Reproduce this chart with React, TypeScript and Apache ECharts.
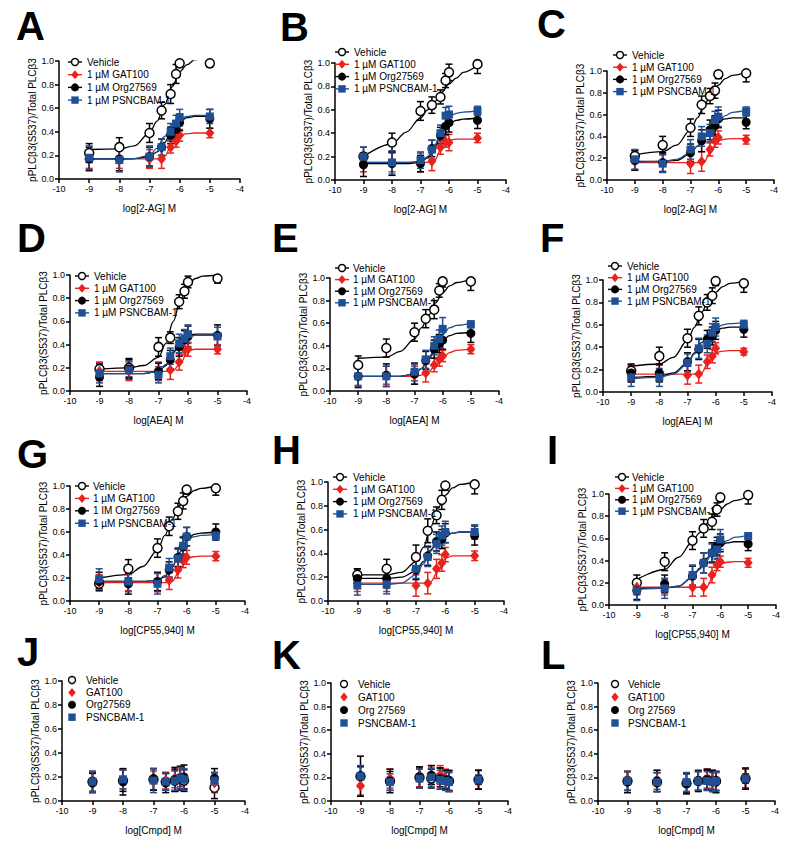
import React, { useEffect, useRef } from "react";
import * as echarts from "echarts";

// ---------- data ----------
const X_CONC = [-9, -8, -7, -6.6, -6.3, -6.12, -6, -5];
const CURVE_X = [-9, -8, -7.5, -7, -6.75, -6.5, -6.25, -6, -5.75, -5.5, -5];
const X_TICK_MIN = -10;
const X_TICK_MAX = -4;
const Y_TICK_MAX = 1;

const Y_TITLE = "pPLCβ3(S537)/Total PLCβ3";
const X_TITLES = [
  "log[2-AG] M", "log[2-AG] M", "log[2-AG] M",
  "log[AEA] M", "log[AEA] M", "log[AEA] M",
  "log[CP55,940] M", "log[CP55,940] M", "log[CP55,940] M",
  "log[Cmpd] M", "log[Cmpd] M", "log[Cmpd] M",
];
const PANEL_LETTERS = ["A", "B", "C", "D", "E", "F", "G", "H", "I", "J", "K", "L"];
const LEGEND_STD = ["Vehicle", "1 µM GAT100", "1 µM Org27569", "1 µM PSNCBAM-1"];
const LEGEND_G = ["Vehicle", "1 µM GAT100", "1 IM Org27569", "1 µM PSNCBAM-1"];
const LEGEND_J = ["Vehicle", "GAT100", "Org27569", "PSNCBAM-1"];
const LEGEND_KL = ["Vehicle", "GAT100", "Org 27569", "PSNCBAM-1"];

// rows: Vehicle, GAT100, Org27569, PSNCBAM-1 ; columns follow X_CONC / CURVE_X
const A_MEANS = [
  [0.22, 0.27, 0.39, 0.58, 0.72, 0.89, 0.98, 0.98],
  [0.17, 0.17, 0.17, 0.17, 0.27, 0.32, 0.37, 0.39],
  [0.17, 0.17, 0.19, 0.27, 0.37, 0.42, 0.48, 0.51],
  [0.18, 0.16, 0.19, 0.27, 0.40, 0.47, 0.52, 0.53],
];
const A_ERRS = [
  [0.08, 0.08, 0.08, 0.07, 0.08, 0.08, 0.03, 0.03],
  [0.08, 0.08, 0.08, 0.08, 0.05, 0.05, 0.05, 0.04],
  [0.10, 0.10, 0.08, 0.07, 0.07, 0.07, 0.07, 0.08],
  [0.10, 0.10, 0.09, 0.07, 0.07, 0.07, 0.07, 0.06],
];
const A_FITS = [
  [0.25, 0.255, 0.28, 0.39, 0.49, 0.63, 0.78, 0.91, 0.97, 1.01, 1.05],
  [0.17, 0.17, 0.17, 0.17, 0.17, 0.19, 0.30, 0.37, 0.385, 0.39, 0.39],
  [0.17, 0.17, 0.172, 0.19, 0.23, 0.31, 0.42, 0.49, 0.52, 0.53, 0.53],
  [0.17, 0.17, 0.173, 0.20, 0.26, 0.36, 0.46, 0.51, 0.53, 0.54, 0.54],
];

const B_MEANS = [
  [0.20, 0.32, 0.59, 0.64, 0.71, 0.85, 0.92, 0.99],
  [0.15, 0.15, 0.15, 0.16, 0.28, 0.33, 0.32, 0.36],
  [0.13, 0.14, 0.14, 0.27, 0.38, 0.46, 0.49, 0.51],
  [0.20, 0.15, 0.17, 0.26, 0.40, 0.55, 0.56, 0.59],
];
const B_ERRS = [
  [0.08, 0.08, 0.08, 0.07, 0.06, 0.06, 0.07, 0.08],
  [0.08, 0.08, 0.08, 0.08, 0.06, 0.05, 0.07, 0.04],
  [0.10, 0.10, 0.07, 0.07, 0.07, 0.07, 0.08, 0.07],
  [0.08, 0.10, 0.07, 0.08, 0.07, 0.07, 0.07, 0.04],
];
const B_FITS = [
  [0.20, 0.31, 0.41, 0.53, 0.60, 0.67, 0.75, 0.82, 0.87, 0.92, 0.98],
  [0.15, 0.15, 0.15, 0.15, 0.15, 0.17, 0.28, 0.34, 0.35, 0.35, 0.35],
  [0.14, 0.14, 0.14, 0.15, 0.19, 0.28, 0.40, 0.48, 0.51, 0.52, 0.53],
  [0.15, 0.15, 0.15, 0.16, 0.20, 0.30, 0.44, 0.54, 0.57, 0.58, 0.59],
];

const C_MEANS = [
  [0.22, 0.32, 0.48, 0.69, 0.77, 0.82, 0.97, 0.98],
  [0.17, 0.16, 0.15, 0.17, 0.28, 0.36, 0.39, 0.37],
  [0.18, 0.16, 0.25, 0.36, 0.46, 0.50, 0.56, 0.53],
  [0.19, 0.15, 0.28, 0.40, 0.43, 0.55, 0.58, 0.63],
];
const C_ERRS = [
  [0.05, 0.08, 0.08, 0.08, 0.07, 0.07, 0.04, 0.08],
  [0.08, 0.08, 0.09, 0.09, 0.06, 0.06, 0.06, 0.04],
  [0.09, 0.09, 0.08, 0.10, 0.09, 0.09, 0.08, 0.06],
  [0.09, 0.08, 0.09, 0.09, 0.08, 0.08, 0.09, 0.04],
];
const C_FITS = [
  [0.23, 0.26, 0.32, 0.46, 0.57, 0.69, 0.79, 0.87, 0.93, 0.96, 0.99],
  [0.16, 0.16, 0.16, 0.16, 0.16, 0.17, 0.28, 0.36, 0.375, 0.38, 0.38],
  [0.17, 0.17, 0.18, 0.24, 0.31, 0.41, 0.49, 0.54, 0.56, 0.57, 0.57],
  [0.16, 0.17, 0.19, 0.25, 0.31, 0.39, 0.47, 0.54, 0.59, 0.62, 0.64],
];

const D_MEANS = [
  [0.19, 0.20, 0.38, 0.46, 0.77, 0.86, 0.94, 0.97],
  [0.17, 0.17, 0.17, 0.18, 0.25, 0.36, 0.36, 0.36],
  [0.12, 0.19, 0.17, 0.27, 0.38, 0.44, 0.47, 0.48],
  [0.15, 0.18, 0.14, 0.30, 0.41, 0.45, 0.49, 0.47],
];
const D_ERRS = [
  [0.05, 0.08, 0.08, 0.05, 0.06, 0.06, 0.05, 0.04],
  [0.08, 0.08, 0.08, 0.08, 0.07, 0.05, 0.06, 0.04],
  [0.08, 0.08, 0.07, 0.08, 0.08, 0.08, 0.09, 0.09],
  [0.08, 0.08, 0.07, 0.07, 0.08, 0.08, 0.08, 0.08],
];
const D_FITS = [
  [0.19, 0.20, 0.22, 0.29, 0.41, 0.60, 0.79, 0.91, 0.97, 0.99, 1.0],
  [0.17, 0.17, 0.17, 0.17, 0.17, 0.18, 0.24, 0.35, 0.36, 0.36, 0.36],
  [0.15, 0.15, 0.15, 0.17, 0.22, 0.33, 0.43, 0.48, 0.49, 0.49, 0.49],
  [0.15, 0.15, 0.15, 0.17, 0.23, 0.34, 0.43, 0.47, 0.48, 0.48, 0.48],
];

const E_MEANS = [
  [0.23, 0.38, 0.52, 0.64, 0.72, 0.89, 0.97, 0.97],
  [0.13, 0.14, 0.14, 0.16, 0.23, 0.28, 0.31, 0.37],
  [0.13, 0.14, 0.15, 0.27, 0.37, 0.42, 0.45, 0.51],
  [0.13, 0.13, 0.17, 0.28, 0.40, 0.46, 0.55, 0.59],
];
const E_ERRS = [
  [0.08, 0.08, 0.08, 0.08, 0.08, 0.06, 0.05, 0.08],
  [0.08, 0.08, 0.08, 0.08, 0.06, 0.06, 0.05, 0.04],
  [0.10, 0.10, 0.09, 0.08, 0.08, 0.08, 0.08, 0.08],
  [0.09, 0.09, 0.08, 0.08, 0.08, 0.08, 0.10, 0.03],
];
const E_FITS = [
  [0.29, 0.30, 0.35, 0.46, 0.56, 0.67, 0.78, 0.87, 0.93, 0.96, 0.99],
  [0.13, 0.13, 0.13, 0.13, 0.14, 0.17, 0.23, 0.30, 0.34, 0.36, 0.37],
  [0.13, 0.13, 0.13, 0.15, 0.20, 0.28, 0.38, 0.45, 0.49, 0.51, 0.52],
  [0.13, 0.13, 0.13, 0.15, 0.20, 0.29, 0.40, 0.50, 0.56, 0.58, 0.60],
];

const F_MEANS = [
  [0.19, 0.32, 0.48, 0.68, 0.80, 0.86, 0.99, 0.97],
  [0.16, 0.17, 0.15, 0.16, 0.27, 0.32, 0.39, 0.36],
  [0.17, 0.17, 0.27, 0.38, 0.47, 0.50, 0.55, 0.56],
  [0.13, 0.13, 0.26, 0.39, 0.43, 0.53, 0.58, 0.60],
];
const F_ERRS = [
  [0.05, 0.08, 0.08, 0.08, 0.07, 0.07, 0.04, 0.08],
  [0.07, 0.07, 0.08, 0.08, 0.06, 0.06, 0.05, 0.03],
  [0.08, 0.08, 0.08, 0.09, 0.08, 0.08, 0.08, 0.07],
  [0.08, 0.08, 0.08, 0.09, 0.08, 0.08, 0.08, 0.04],
];
const F_FITS = [
  [0.23, 0.25, 0.31, 0.46, 0.58, 0.71, 0.82, 0.89, 0.94, 0.97, 0.99],
  [0.16, 0.16, 0.16, 0.16, 0.16, 0.17, 0.27, 0.35, 0.365, 0.37, 0.37],
  [0.13, 0.14, 0.17, 0.26, 0.35, 0.44, 0.51, 0.55, 0.57, 0.58, 0.58],
  [0.12, 0.13, 0.16, 0.25, 0.34, 0.44, 0.52, 0.57, 0.60, 0.61, 0.62],
];

const G_MEANS = [
  [0.15, 0.28, 0.46, 0.65, 0.78, 0.87, 0.97, 0.98],
  [0.16, 0.16, 0.16, 0.18, 0.27, 0.35, 0.38, 0.39],
  [0.17, 0.15, 0.17, 0.27, 0.38, 0.47, 0.56, 0.60],
  [0.19, 0.17, 0.15, 0.29, 0.37, 0.48, 0.56, 0.57],
];
const G_ERRS = [
  [0.04, 0.08, 0.08, 0.08, 0.07, 0.07, 0.04, 0.06],
  [0.07, 0.07, 0.08, 0.08, 0.07, 0.06, 0.06, 0.04],
  [0.08, 0.09, 0.08, 0.07, 0.08, 0.08, 0.08, 0.07],
  [0.09, 0.09, 0.09, 0.08, 0.08, 0.08, 0.08, 0.04],
];
const G_FITS = [
  [0.20, 0.23, 0.30, 0.44, 0.57, 0.71, 0.83, 0.91, 0.96, 0.98, 1.0],
  [0.16, 0.16, 0.16, 0.16, 0.16, 0.17, 0.26, 0.37, 0.385, 0.39, 0.39],
  [0.17, 0.17, 0.17, 0.18, 0.21, 0.29, 0.42, 0.53, 0.58, 0.59, 0.60],
  [0.17, 0.17, 0.17, 0.18, 0.22, 0.30, 0.42, 0.52, 0.56, 0.57, 0.58],
];

const H_MEANS = [
  [0.22, 0.27, 0.37, 0.59, 0.72, 0.85, 0.97, 0.98],
  [0.15, 0.15, 0.13, 0.15, 0.27, 0.32, 0.39, 0.38],
  [0.19, 0.19, 0.26, 0.38, 0.50, 0.52, 0.57, 0.55],
  [0.13, 0.14, 0.27, 0.37, 0.48, 0.55, 0.58, 0.58],
];
const H_ERRS = [
  [0.05, 0.08, 0.10, 0.10, 0.07, 0.08, 0.04, 0.08],
  [0.07, 0.07, 0.09, 0.09, 0.08, 0.07, 0.06, 0.04],
  [0.08, 0.08, 0.08, 0.08, 0.08, 0.08, 0.08, 0.08],
  [0.08, 0.08, 0.08, 0.08, 0.08, 0.08, 0.09, 0.06],
];
const H_FITS = [
  [0.22, 0.22, 0.24, 0.33, 0.45, 0.62, 0.78, 0.89, 0.95, 0.98, 1.0],
  [0.15, 0.15, 0.15, 0.15, 0.15, 0.16, 0.25, 0.36, 0.38, 0.38, 0.38],
  [0.19, 0.19, 0.20, 0.25, 0.33, 0.43, 0.51, 0.55, 0.57, 0.58, 0.58],
  [0.14, 0.14, 0.15, 0.22, 0.31, 0.42, 0.51, 0.55, 0.57, 0.58, 0.58],
];

const I_MEANS = [
  [0.20, 0.39, 0.58, 0.69, 0.75, 0.86, 0.97, 0.99],
  [0.16, 0.16, 0.16, 0.16, 0.27, 0.36, 0.39, 0.38],
  [0.13, 0.19, 0.26, 0.38, 0.47, 0.53, 0.56, 0.55],
  [0.13, 0.15, 0.27, 0.38, 0.47, 0.50, 0.59, 0.62],
];
const I_ERRS = [
  [0.07, 0.08, 0.08, 0.08, 0.07, 0.06, 0.04, 0.08],
  [0.07, 0.07, 0.08, 0.08, 0.07, 0.05, 0.05, 0.04],
  [0.08, 0.08, 0.09, 0.09, 0.09, 0.08, 0.08, 0.06],
  [0.09, 0.09, 0.09, 0.09, 0.08, 0.08, 0.09, 0.03],
];
const I_FITS = [
  [0.23, 0.32, 0.43, 0.57, 0.65, 0.73, 0.80, 0.86, 0.91, 0.94, 0.98],
  [0.16, 0.16, 0.16, 0.16, 0.16, 0.16, 0.26, 0.37, 0.385, 0.39, 0.39],
  [0.15, 0.15, 0.17, 0.25, 0.33, 0.42, 0.49, 0.54, 0.56, 0.57, 0.57],
  [0.14, 0.15, 0.17, 0.25, 0.32, 0.40, 0.48, 0.54, 0.58, 0.61, 0.63],
];

const J_MEANS = [
  [0.16, 0.17, 0.18, 0.16, 0.17, 0.19, 0.17, 0.11],
  [0.16, 0.18, 0.17, 0.17, 0.19, 0.20, 0.18, 0.15],
  [0.15, 0.16, 0.18, 0.15, 0.18, 0.19, 0.20, 0.19],
  [0.16, 0.18, 0.17, 0.16, 0.17, 0.19, 0.18, 0.17],
];
const J_ERRS = [
  [0.08, 0.09, 0.09, 0.07, 0.09, 0.09, 0.09, 0.09],
  [0.08, 0.08, 0.08, 0.07, 0.08, 0.08, 0.08, 0.08],
  [0.08, 0.11, 0.09, 0.08, 0.10, 0.10, 0.10, 0.08],
  [0.09, 0.08, 0.10, 0.07, 0.08, 0.09, 0.09, 0.07],
];

const K_MEANS = [
  [0.21, 0.17, 0.20, 0.19, 0.20, 0.18, 0.17, 0.18],
  [0.13, 0.19, 0.20, 0.22, 0.22, 0.19, 0.17, 0.18],
  [0.21, 0.17, 0.20, 0.22, 0.19, 0.18, 0.17, 0.18],
  [0.21, 0.16, 0.19, 0.20, 0.18, 0.17, 0.16, 0.18],
];
const K_ERRS = [
  [0.08, 0.08, 0.08, 0.08, 0.08, 0.08, 0.08, 0.08],
  [0.08, 0.08, 0.08, 0.08, 0.08, 0.08, 0.08, 0.08],
  [0.17, 0.10, 0.09, 0.08, 0.09, 0.08, 0.09, 0.08],
  [0.09, 0.07, 0.08, 0.08, 0.08, 0.08, 0.08, 0.04],
];

const L_MEANS = [
  [0.17, 0.16, 0.15, 0.17, 0.18, 0.17, 0.17, 0.19],
  [0.17, 0.18, 0.16, 0.17, 0.19, 0.18, 0.16, 0.19],
  [0.16, 0.17, 0.15, 0.17, 0.18, 0.17, 0.16, 0.19],
  [0.17, 0.16, 0.16, 0.17, 0.17, 0.16, 0.17, 0.19],
];
const L_ERRS = [
  [0.08, 0.08, 0.08, 0.08, 0.08, 0.08, 0.08, 0.08],
  [0.08, 0.08, 0.08, 0.08, 0.08, 0.08, 0.08, 0.08],
  [0.09, 0.09, 0.09, 0.09, 0.09, 0.09, 0.09, 0.09],
  [0.08, 0.08, 0.08, 0.08, 0.08, 0.08, 0.08, 0.04],
];

// ---------- layout / style ----------
const FONT = "'Liberation Sans', Arial, Helvetica, sans-serif";
const RED = "#e8231f";
const BLUE = "#1f4f94";
const BLACK = "#000000";

// [left, top, right, bottom] in px
const GRID_BOX = [
  [59, 61, 240, 179], [335, 63, 506, 180], [607, 71, 774, 180],
  [70, 275, 247, 391], [330, 278, 499, 391], [603, 280, 772, 392],
  [70, 486, 245, 601], [328, 482, 504, 601], [609, 494, 776, 605],
  [62, 681, 245, 801], [331, 683, 508, 801], [598, 683, 775, 801],
];
// [iconLeft, firstRowY, rowGap, textLeft]
const LEGEND_BOX = [
  [68, 62, 12.7, 87], [335, 52, 12.3, 354], [613, 55, 12.2, 632],
  [75, 276, 12.3, 94], [335, 268, 11.6, 353], [608, 266, 11.7, 627],
  [75, 486, 12.4, 93], [333, 477, 12.3, 353], [615, 477, 11.4, 632],
  [68, 680, 12.4, 86], [340, 684, 13, 358], [611, 684, 13, 628],
];
// [x, yCenter]
const LETTER_POS = [
  [16, 26], [280, 27], [537, 24],
  [17, 238], [272, 238], [540, 238],
  [17, 454], [272, 450], [547, 450],
  [17, 652], [272, 655], [541, 655],
];

const PANELS = [
  { means: A_MEANS, errs: A_ERRS, fits: A_FITS, legend: LEGEND_STD },
  { means: B_MEANS, errs: B_ERRS, fits: B_FITS, legend: LEGEND_STD },
  { means: C_MEANS, errs: C_ERRS, fits: C_FITS, legend: LEGEND_STD },
  { means: D_MEANS, errs: D_ERRS, fits: D_FITS, legend: LEGEND_STD },
  { means: E_MEANS, errs: E_ERRS, fits: E_FITS, legend: LEGEND_STD },
  { means: F_MEANS, errs: F_ERRS, fits: F_FITS, legend: LEGEND_STD },
  { means: G_MEANS, errs: G_ERRS, fits: G_FITS, legend: LEGEND_G },
  { means: H_MEANS, errs: H_ERRS, fits: H_FITS, legend: LEGEND_STD },
  { means: I_MEANS, errs: I_ERRS, fits: I_FITS, legend: LEGEND_STD },
  { means: J_MEANS, errs: J_ERRS, fits: null, legend: LEGEND_J },
  { means: K_MEANS, errs: K_ERRS, fits: null, legend: LEGEND_KL },
  { means: L_MEANS, errs: L_ERRS, fits: null, legend: LEGEND_KL },
];

const TREAT_STYLE = [
  { symbol: "circle", size: 9, fill: "#ffffff", stroke: BLACK, line: BLACK },
  { symbol: "diamond", size: [9, 11], fill: RED, stroke: RED, line: RED },
  { symbol: "circle", size: 9, fill: BLACK, stroke: BLACK, line: BLACK },
  { symbol: "rect", size: 8, fill: BLUE, stroke: BLUE, line: BLUE },
];

function errRender(color: string) {
  return (params: any, api: any) => {
    const x = api.value(0);
    const lo = api.coord([x, api.value(1)]);
    const hi = api.coord([x, api.value(2)]);
    const w = 3.5;
    const st = { stroke: color, lineWidth: 1.5 };
    return {
      type: "group",
      children: [
        { type: "line", shape: { x1: lo[0], y1: lo[1], x2: hi[0], y2: hi[1] }, style: st },
        { type: "line", shape: { x1: lo[0] - w, y1: lo[1], x2: lo[0] + w, y2: lo[1] }, style: st },
        { type: "line", shape: { x1: hi[0] - w, y1: hi[1], x2: hi[0] + w, y2: hi[1] }, style: st },
      ],
    };
  };
}

function legendSymbol(k: number, cx: number, cy: number) {
  const s = TREAT_STYLE[k];
  if (k === 0) {
    return { type: "circle", shape: { cx, cy, r: 3.5 }, style: { fill: "#fff", stroke: BLACK, lineWidth: 1.4 }, z: 20 };
  }
  if (k === 1) {
    return {
      type: "polygon",
      shape: { points: [[cx, cy - 4.5], [cx + 3.7, cy], [cx, cy + 4.5], [cx - 3.7, cy]] },
      style: { fill: s.fill }, z: 20,
    };
  }
  if (k === 2) {
    return { type: "circle", shape: { cx, cy, r: 4 }, style: { fill: BLACK }, z: 20 };
  }
  return { type: "rect", shape: { x: cx - 3.7, y: cy - 3.7, width: 7.4, height: 7.4 }, style: { fill: BLUE }, z: 20 };
}

function buildOption() {
  const grid: any[] = [];
  const xAxis: any[] = [];
  const yAxis: any[] = [];
  const curves: any[] = [];
  const bars: any[] = [];
  const points: any[] = [];
  const graphic: any[] = [];

  PANELS.forEach((p, i) => {
    const [l, t, r, b] = GRID_BOX[i];
    grid.push({ left: l, top: t, width: r - l, height: b - t, containLabel: false });
    xAxis.push({
      gridIndex: i, type: "value", min: X_TICK_MIN, max: X_TICK_MAX, interval: 1,
      name: X_TITLES[i], nameLocation: "middle", nameGap: 24,
      nameTextStyle: { fontSize: 10, color: BLACK, fontFamily: FONT },
      axisLine: { onZero: false, lineStyle: { color: BLACK, width: 1.5 } },
      axisTick: { length: 4, lineStyle: { color: BLACK, width: 1.5 } },
      axisLabel: { fontSize: 9, color: BLACK, margin: 5, fontFamily: FONT },
      splitLine: { show: false },
    });
    yAxis.push({
      gridIndex: i, type: "value", min: 0, max: Y_TICK_MAX, interval: 0.2,
      name: Y_TITLE, nameLocation: "middle", nameGap: 18,
      nameTextStyle: { fontSize: 10, color: BLACK, fontFamily: FONT },
      axisLine: { onZero: false, lineStyle: { color: BLACK, width: 1.5 } },
      axisTick: { length: 4, lineStyle: { color: BLACK, width: 1.5 } },
      axisLabel: { fontSize: 9, color: BLACK, margin: 5, fontFamily: FONT, formatter: (v: number) => v.toFixed(1) },
      splitLine: { show: false },
    });

    for (let k = 0; k < 4; k++) {
      const s = TREAT_STYLE[k];
      const m = p.means[k];
      const e = p.errs[k];
      if (p.fits) {
        curves.push({
          type: "line", xAxisIndex: i, yAxisIndex: i, silent: true,
          showSymbol: false, symbol: "none", smooth: 0.35, smoothMonotone: "x", clip: true,
          lineStyle: { color: s.line, width: 1.3 },
          data: CURVE_X.map((x, j) => [x, p.fits![k][j]]),
          z: 2,
        });
      }
      bars.push({
        type: "custom", xAxisIndex: i, yAxisIndex: i, silent: true, clip: true,
        renderItem: errRender(s.line),
        data: X_CONC.map((x, j) => [x, m[j] - e[j], m[j] + e[j]]),
        z: 3,
      });
      points.push({
        type: "scatter", xAxisIndex: i, yAxisIndex: i, silent: true,
        symbol: s.symbol, symbolSize: s.size,
        itemStyle: { color: s.fill, borderColor: s.stroke, borderWidth: k === 0 ? 1.5 : 0, opacity: 1 },
        data: X_CONC.map((x, j) => [x, m[j]]),
        z: 4,
      });
    }

    // legend
    const [lx, ly, dy, tx] = LEGEND_BOX[i];
    p.legend.forEach((label, k) => {
      const y = ly + k * dy;
      if (p.fits) {
        graphic.push({
          type: "line", shape: { x1: lx, y1: y, x2: lx + 14, y2: y },
          style: { stroke: TREAT_STYLE[k].line, lineWidth: 1.4 }, z: 19,
        });
        graphic.push(legendSymbol(k, lx + 7, y));
      } else {
        graphic.push(legendSymbol(k, lx + 4, y));
      }
      graphic.push({
        type: "text", x: tx, y, z: 20,
        style: { text: label, fontSize: 10, fill: BLACK, fontFamily: FONT, verticalAlign: "middle", align: "left" },
      });
    });

    // panel letter
    const [px, py] = LETTER_POS[i];
    graphic.push({
      type: "text", x: px, y: py, z: 20,
      style: { text: PANEL_LETTERS[i], fontSize: 40, fontWeight: "bold", fill: BLACK, fontFamily: FONT, verticalAlign: "middle", align: "left" },
    });
  });

  return {
    animation: false,
    backgroundColor: "#ffffff",
    textStyle: { fontFamily: FONT },
    grid, xAxis, yAxis,
    series: [...curves, ...bars, ...points],
    graphic,
  };
}

export default function App() {
  const ref = useRef<HTMLDivElement>(null);
  useEffect(() => {
    if (!ref.current) return;
    const chart = echarts.init(ref.current, undefined, { renderer: "svg" });
    chart.setOption(buildOption() as any);
    return () => chart.dispose();
  }, []);
  return (
    <div
      ref={ref}
      style={{ position: "absolute", left: 0, top: 0, width: 800, height: 842, background: "#fff" }}
    />
  );
}
